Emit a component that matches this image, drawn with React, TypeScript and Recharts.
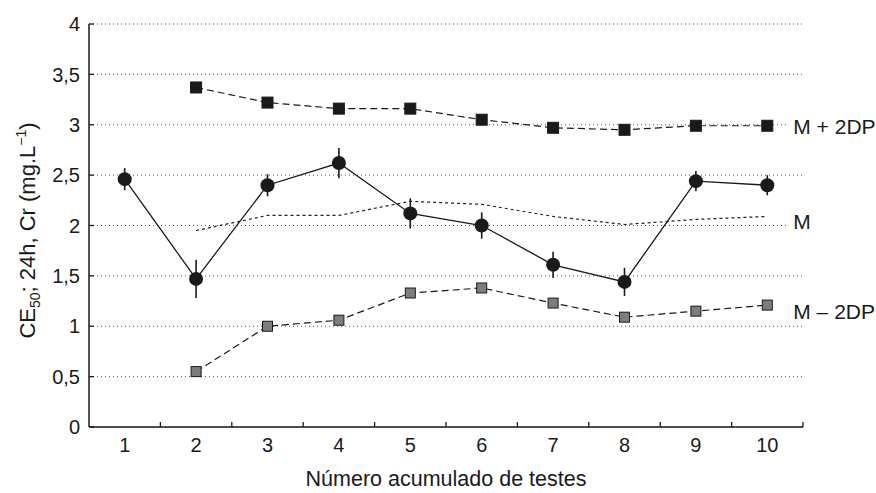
import React from 'react';
import { LineChart, Line, XAxis, YAxis, CartesianGrid, ErrorBar, LabelList } from 'recharts';

const tests = [1, 2, 3, 4, 5, 6, 7, 8, 9, 10];
const ce50 = [2.46, 1.47, 2.4, 2.62, 2.12, 2.0, 1.61, 1.44, 2.44, 2.4];
const ce50Err = [0.11, 0.19, 0.11, 0.15, 0.15, 0.13, 0.13, 0.14, 0.1, 0.1];
const mPlus2dp = [null, 3.37, 3.22, 3.16, 3.16, 3.05, 2.97, 2.95, 2.99, 2.99];
const mMean = [null, 1.95, 2.1, 2.1, 2.24, 2.21, 2.09, 2.01, 2.06, 2.09];
const mMinus2dp = [null, 0.55, 1.0, 1.06, 1.33, 1.38, 1.23, 1.09, 1.15, 1.21];

const yTicks = [0, 0.5, 1, 1.5, 2, 2.5, 3, 3.5, 4];
const xTicks = [1, 1.5, 2, 2.5, 3, 3.5, 4, 4.5, 5, 5.5, 6, 6.5, 7, 7.5, 8, 8.5, 9, 9.5, 10, 10.5];

const data = tests.map((t, i) => ({
  test: t,
  ce: ce50[i],
  err: ce50Err[i],
  plus: mPlus2dp[i],
  mean: mMean[i],
  minus: mMinus2dp[i],
}));

const FONT = 'Liberation Sans, Arial, sans-serif';
const INK = '#1a1a1a';

const XTick = (props: any) => {
  const { x, y, payload } = props;
  const v = payload.value;
  if (Number.isInteger(v)) {
    return (
      <text x={x} y={y + 25} textAnchor="middle" fontSize={20} fontFamily={FONT} fill={INK}>
        {v}
      </text>
    );
  }
  return <line x1={x} x2={x} y1={y} y2={y - 5} stroke={INK} strokeWidth={1.3} />;
};

const YTick = (props: any) => {
  const { x, y, payload } = props;
  return (
    <g>
      <line x1={x} x2={x + 5} y1={y} y2={y} stroke={INK} strokeWidth={1.3} />
      <text x={x - 9} y={y} dy="0.36em" textAnchor="end" fontSize={20} fontFamily={FONT} fill={INK}>
        {String(payload.value).replace('.', ',')}
      </text>
    </g>
  );
};

const squareDot = (fill: string, size: number) => (props: any) => {
  const { cx, cy, index } = props;
  if (cx == null || cy == null || props.value == null) return <g key={`s-${index}`} />;
  return (
    <rect
      key={`s-${index}`}
      x={cx - size / 2}
      y={cy - size / 2}
      width={size}
      height={size}
      fill={fill}
      stroke={INK}
      strokeWidth={1}
    />
  );
};

const endLabel = (text: string, dy: number, w: number) => (props: any) => {
  const { x, y, index } = props;
  if (index !== tests.length - 1) return null;
  return (
    <g>
      <rect x={x + 20} y={y + dy - 12} width={w} height={24} fill="#fff" />
      <text x={x + 26} y={y + dy} dy="0.35em" fontSize={21} fontFamily={FONT} fill={INK}>
        {text}
      </text>
    </g>
  );
};

const XTitle = (props: any) => {
  const vb = props.viewBox;
  return (
    <text x={vb.x + vb.width / 2} y={486} textAnchor="middle" fontSize={21.5} fontFamily={FONT} fill={INK}>
      Número acumulado de testes
    </text>
  );
};

const YTitle = (props: any) => {
  const vb = props.viewBox;
  const cx = 27;
  const cy = vb.y + vb.height / 2 + 5;
  return (
    <text
      x={cx}
      y={cy}
      transform={`rotate(-90, ${cx}, ${cy})`}
      textAnchor="middle"
      dy="0.35em"
      fontSize={22}
      fontFamily={FONT}
      fill={INK}
    >
      CE
      <tspan fontSize={14} dy={5}>50</tspan>
      <tspan dy={-5}>; 24h, Cr (mg.L</tspan>
      <tspan fontSize={14} dy={-9}>−1</tspan>
      <tspan dy={9}>)</tspan>
    </text>
  );
};

export default function App() {
  return (
    <div style={{ position: 'absolute', left: 0, top: 0, width: 876, height: 493, background: '#fff' }}>
      <LineChart width={876} height={493} data={data} margin={{ top: 24, right: 73, bottom: 0, left: 0 }}>
        <CartesianGrid horizontal vertical={false} stroke="#555" strokeDasharray="1 3" />
        <XAxis
          dataKey="test"
          type="number"
          domain={[0.5, 10.5]}
          ticks={xTicks}
          interval={0}
          tick={<XTick />}
          tickLine={false}
          tickSize={0}
          tickMargin={0}
          height={66}
          axisLine={{ stroke: INK, strokeWidth: 1.5 }}
          label={{ content: <XTitle /> } as any}
        />
        <YAxis
          type="number"
          domain={[0, 4]}
          ticks={yTicks}
          interval={0}
          width={89}
          tick={<YTick />}
          tickLine={false}
          tickSize={0}
          tickMargin={0}
          axisLine={{ stroke: INK, strokeWidth: 1.5 }}
          label={{ content: <YTitle /> } as any}
        />
        <Line
          dataKey="mean"
          stroke="#222"
          strokeWidth={1.2}
          strokeDasharray="3 3"
          dot={false}
          isAnimationActive={false}
        >
          <LabelList dataKey="mean" content={endLabel('M', 5, 30)} />
        </Line>
        <Line
          dataKey="plus"
          stroke={INK}
          strokeWidth={1.2}
          strokeDasharray="7 4"
          dot={squareDot(INK, 11)}
          isAnimationActive={false}
        >
          <LabelList dataKey="plus" content={endLabel('M + 2DP', 1, 90)} />
        </Line>
        <Line
          dataKey="minus"
          stroke={INK}
          strokeWidth={1.2}
          strokeDasharray="7 4"
          dot={squareDot('#7d7d7d', 10)}
          isAnimationActive={false}
        >
          <LabelList dataKey="minus" content={endLabel('M – 2DP', 7, 90)} />
        </Line>
        <Line
          dataKey="ce"
          stroke={INK}
          strokeWidth={1.3}
          dot={{ r: 7, fill: INK, stroke: INK, strokeWidth: 0 }}
          isAnimationActive={false}
        >
          <ErrorBar dataKey="err" direction="y" width={0} stroke={INK} strokeWidth={1.6} isAnimationActive={false} />
        </Line>
      </LineChart>
    </div>
  );
}
